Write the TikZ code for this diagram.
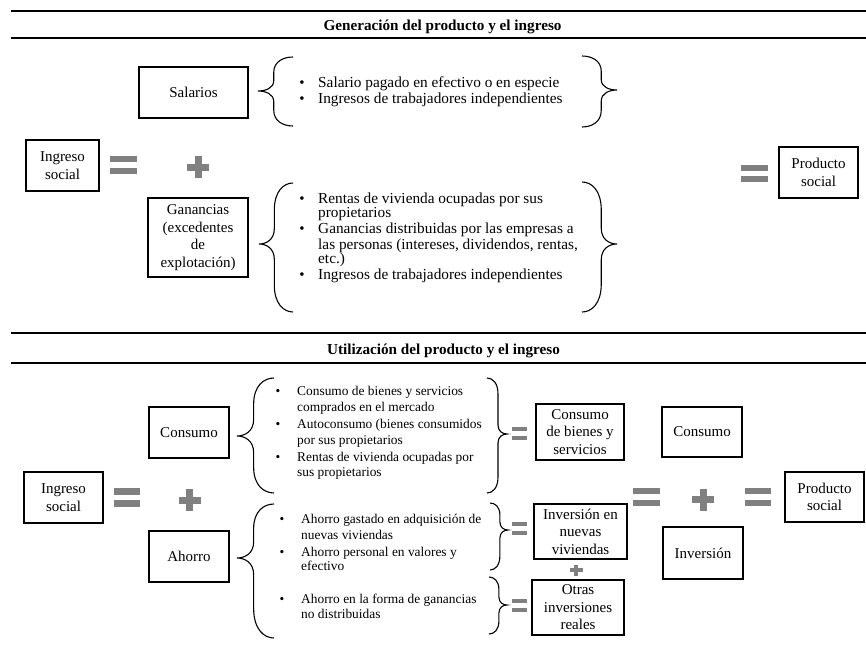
\documentclass[tikz,border=0pt]{standalone}
\usepackage{fontspec}
\setmainfont{Liberation Serif}
\definecolor{symgray}{RGB}{128,128,128}
\tikzset{
  box/.style={draw, line width=1.2pt, inner sep=0pt, align=center, font=\fontsize{15}{17.5}\selectfont},
  rulestyle/.style={line width=1.4pt},
  bracestyle/.style={line width=1.1pt},
  toplist/.style={anchor=base west, inner sep=0pt, font=\fontsize{15.3}{15.5}\selectfont},
  botlist/.style={anchor=base west, inner sep=0pt, font=\fontsize{13.4}{16}\selectfont},
  topbul/.style={anchor=base, inner sep=0pt, font=\fontsize{15}{15.5}\selectfont},
  botbul/.style={anchor=base, inner sep=0pt, font=\fontsize{13.4}{16}\selectfont},
  titlestyle/.style={anchor=base, inner sep=0pt, font=\fontsize{15.2}{18}\selectfont\bfseries},
}
% #1 tip x, #2 end x, #3 top y, #4 tip y, #5 bottom y
\newcommand{\bracepath}[5]{%
  \pgfmathsetmacro{\bd}{#2-#1}%
  \pgfmathsetmacro{\bw}{abs(\bd)}%
  \pgfmathsetmacro{\bxm}{#1+0.45*\bd}%
  \pgfmathsetmacro{\bex}{\bxm+0.5*(#2-\bxm)}%
  \pgfmathsetmacro{\btx}{#1+0.5*(\bxm-#1)}%
  \pgfmathsetmacro{\bcu}{min(0.8*\bw,0.45*(#4-#3))}%
  \pgfmathsetmacro{\bcl}{min(0.8*\bw,0.45*(#5-#4))}%
  \pgfmathsetmacro{\bsu}{min(0.45*\bw,0.3*(#4-#3))}%
  \pgfmathsetmacro{\bsl}{min(0.45*\bw,0.3*(#5-#4))}%
  \draw[bracestyle] (#2,#3) .. controls (\bex,#3) and (\bxm,#3+0.3*\bcu) .. (\bxm,#3+\bcu)
    -- (\bxm,#4-\bsu) .. controls (\bxm,#4-0.3*\bsu) and (\btx,#4) .. (#1,#4)
    .. controls (\btx,#4) and (\bxm,#4+0.3*\bsl) .. (\bxm,#4+\bsl)
    -- (\bxm,#5-\bcl) .. controls (\bxm,#5-0.3*\bcl) and (\bex,#5) .. (#2,#5);}
% cx cy w t g
\newcommand{\eqsym}[5]{%
  \fill[symgray] (#1-#3/2,#2-#5/2-#4) rectangle (#1+#3/2,#2-#5/2);
  \fill[symgray] (#1-#3/2,#2+#5/2) rectangle (#1+#3/2,#2+#5/2+#4);}
% cx cy w h t
\newcommand{\plussym}[5]{%
  \fill[symgray] (#1-#3/2,#2-#5/2) rectangle (#1+#3/2,#2+#5/2);
  \fill[symgray] (#1-#5/2,#2-#4/2) rectangle (#1+#5/2,#2+#4/2);}
\begin{document}
\begin{tikzpicture}[x=1pt,y=-1pt]
\useasboundingbox (0,0) rectangle (866,652);
% ---------- top section ----------
\draw[rulestyle] (11,11) -- (866,11);
\draw[rulestyle] (11,38) -- (866,38);
\node[titlestyle] (t1) at (442.5,31) {Generación del producto y el ingreso};

\node[box, minimum width=73pt, minimum height=51pt] (ing1) at (62.5,165.5) {Ingreso\\social};
\node[box, minimum width=109pt, minimum height=51pt] (sal) at (193.5,92.5) {Salarios};
\node[box, minimum width=100pt, minimum height=79pt] (gan) at (198,237.5) {Ganancias\\(excedentes\\de\\explotación)};
\node[box, minimum width=79pt, minimum height=51pt] (prod1) at (818.5,172.5) {Producto\\social};

\eqsym{123.5}{165}{27}{6.5}{5.5}
\plussym{198}{167.5}{22}{22}{7}
\eqsym{754.5}{173.5}{27}{6}{5.5}

\bracepath{258}{293}{57}{91}{126}
\bracepath{617}{582}{56}{90}{127}
\bracepath{259}{293}{183}{244}{312}
\bracepath{617}{582}{182}{244}{312}

\node[topbul] (b1) at (302,87.5) {•};
\node[toplist] (s1) at (318,87.5) {Salario pagado en efectivo o en especie};
\node[topbul] (b2) at (302,104) {•};
\node[toplist] (s2) at (318,104) {Ingresos de trabajadores independientes};

\node[topbul] (b3) at (302,203.5) {•};
\node[toplist] (g1) at (318,203.5) {Rentas de vivienda ocupadas por sus};
\node[toplist] (g2) at (318,218) {propietarios};
\node[topbul] (b4) at (302,233.5) {•};
\node[toplist] (g3) at (318,233.5) {Ganancias distribuidas por las empresas a};
\node[toplist] (g4) at (318,249) {las personas (intereses, dividendos, rentas,};
\node[toplist] (g5) at (318,263.5) {etc.)};
\node[topbul] (b5) at (302,279.5) {•};
\node[toplist] (g6) at (318,279.5) {Ingresos de trabajadores independientes};

% ---------- bottom section ----------
\draw[rulestyle] (11,333) -- (866,333);
\draw[rulestyle] (11,363) -- (866,363);
\node[titlestyle] (t2) at (443.5,354) {Utilización del producto y el ingreso};

\node[box, minimum width=79pt, minimum height=51pt] (ing2) at (63.5,497.5) {Ingreso\\social};
\node[box, minimum width=80pt, minimum height=51pt] (cons) at (189,432.5) {Consumo};
\node[box, minimum width=80pt, minimum height=51pt] (aho) at (189,556.5) {Ahorro};
\node[box, minimum width=88pt, minimum height=56pt] (cbs) at (580,432) {Consumo\\de bienes y\\servicios};
\node[box, minimum width=93pt, minimum height=55pt] (inv1) at (580.5,531.5) {Inversión en\\nuevas\\viviendas};
\node[box, minimum width=92pt, minimum height=55pt] (otr) at (578,607.5) {Otras\\inversiones\\reales};
\node[box, minimum width=80pt, minimum height=50pt] (cons2) at (702,432) {Consumo};
\node[box, minimum width=80pt, minimum height=52pt] (inver) at (703,553) {Inversión};
\node[box, minimum width=79pt, minimum height=50pt] (prod2) at (824.5,497) {Producto\\social};

\eqsym{127}{497.5}{26}{6.5}{5.5}
\plussym{189.5}{500}{22}{22}{7}
\eqsym{646.5}{497}{27}{6.5}{5.5}
\plussym{703}{499.5}{22}{22}{7}
\eqsym{758}{497}{26}{6.5}{5.5}
\eqsym{519.5}{433.5}{15}{4.3}{4.4}
\eqsym{519.5}{528.5}{15}{4.3}{4.4}
\eqsym{519.5}{605.5}{15}{4.3}{4.4}
\plussym{576}{570}{13}{11}{4}

\bracepath{237}{274}{378}{436}{493}
\bracepath{507}{487}{378}{434}{493}
\bracepath{237}{274}{504}{558}{638}
\bracepath{508}{490}{503}{530}{570}
\bracepath{507}{489}{577}{605}{634}

\node[botbul] (c1b) at (278,395.5) {•};
\node[botlist] (c1) at (297,395.5) {Consumo de bienes y servicios};
\node[botlist] (c2) at (297,411) {comprados en el mercado};
\node[botbul] (c3b) at (278,428.5) {•};
\node[botlist] (c3) at (297,428.5) {Autoconsumo (bienes consumidos};
\node[botlist] (c4) at (297,444.5) {por sus propietarios};
\node[botbul] (c5b) at (278,461.5) {•};
\node[botlist] (c5) at (297,461.5) {Rentas de vivienda ocupadas por};
\node[botlist] (c6) at (297,476.5) {sus propietarios};

\node[botbul] (a1b) at (282,523.5) {•};
\node[botlist] (a1) at (301,523.5) {Ahorro gastado en adquisición de};
\node[botlist] (a2) at (301,539.5) {nuevas viviendas};
\node[botbul] (a3b) at (282,556.5) {•};
\node[botlist] (a3) at (301,556.5) {Ahorro personal en valores y};
\node[botlist] (a4) at (301,570.5) {efectivo};
\node[botbul] (a5b) at (282,603.5) {•};
\node[botlist] (a5) at (301,603.5) {Ahorro en la forma de ganancias};
\node[botlist] (a6) at (301,618.5) {no distribuidas};
\end{tikzpicture}
\end{document}
